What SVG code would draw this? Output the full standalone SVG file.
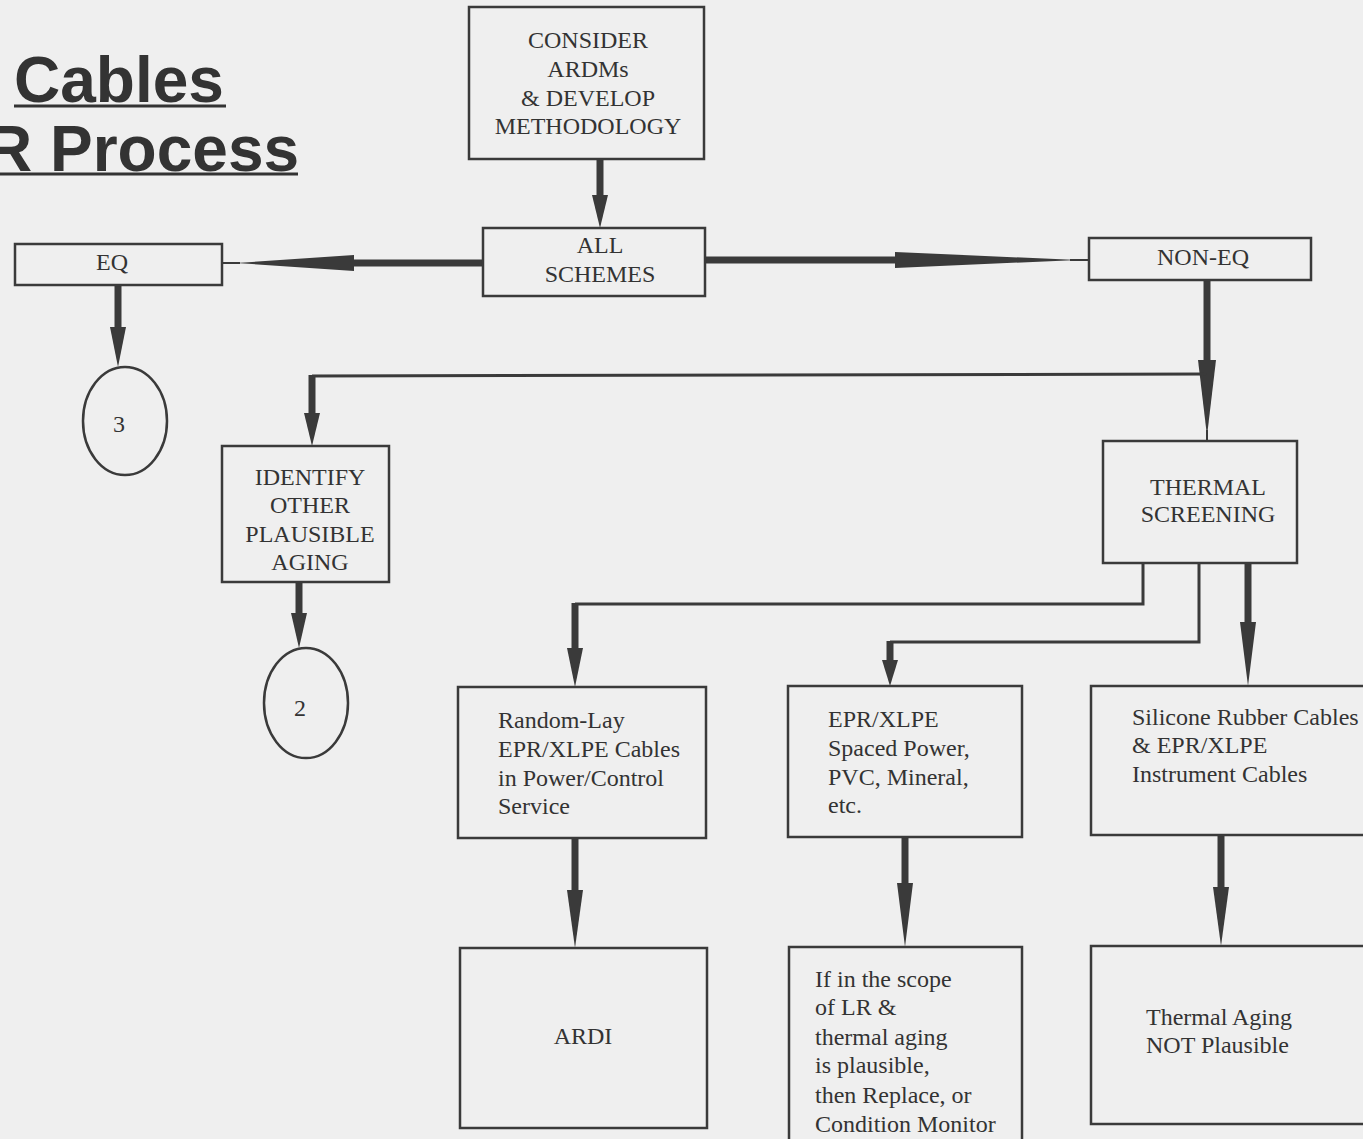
<svg xmlns="http://www.w3.org/2000/svg" width="1363" height="1139" viewBox="0 0 1363 1139">
<style>
.bg{fill:#efefef}
.box{fill:none;stroke:#3a3a3a;stroke-width:2.5}
.t{font-family:"Liberation Serif","Times New Roman",serif;font-size:24px;fill:#333}
.c{text-anchor:middle}
.title{font-family:"Liberation Sans",Arial,sans-serif;font-weight:bold;font-size:64px;fill:#333}
.ul{stroke:#333;stroke-width:3}
.thin{fill:none;stroke:#3a3a3a;stroke-width:3}
.shaft{fill:none;stroke:#3a3a3a;stroke-width:7}
.head{fill:#3a3a3a}
</style>
<rect class="bg" x="0" y="0" width="1363" height="1139"/>
<g id="title">
<text class="title" x="14" y="102">Cables</text>
<line class="ul" x1="14" y1="106" x2="226" y2="106"/>
<text class="title" x="-14" y="171">R Process</text>
<line class="ul" x1="0" y1="174" x2="298" y2="174"/>
</g>
<g id="connectors">
<!-- CONSIDER -> ALL -->
<line class="shaft" x1="600" y1="160" x2="600" y2="196"/>
<polygon class="head" points="592,195 608,195 600,228"/>
<!-- ALL -> EQ -->
<line class="shaft" x1="483" y1="263" x2="352" y2="263"/>
<polygon class="head" points="354,255 354,271 236,263"/>
<line class="thin" x1="240" y1="263" x2="222" y2="263" style="stroke-width:2"/>
<!-- ALL -> NON-EQ -->
<line class="shaft" x1="705" y1="260" x2="896" y2="260"/>
<polygon class="head" points="895,252 895,268 1078,260"/>
<line class="thin" x1="1070" y1="260" x2="1089" y2="260" style="stroke-width:2"/>
<!-- EQ -> 3 -->
<line class="shaft" x1="118" y1="286" x2="118" y2="328"/>
<polygon class="head" points="110,327 126,327 118,367"/>
<!-- NON-EQ -> THERMAL -->
<line class="shaft" x1="1207" y1="280" x2="1207" y2="361"/>
<polygon class="head" points="1198,360 1216,360 1207,436"/>
<line class="thin" x1="1207" y1="430" x2="1207" y2="441" style="stroke-width:2"/>
<!-- branch -> IDENTIFY -->
<polyline class="thin" points="1207,374 312,376"/>
<line class="shaft" x1="312" y1="375" x2="312" y2="414"/>
<polygon class="head" points="304,413 320,413 312,446"/>
<!-- IDENTIFY -> 2 -->
<line class="shaft" x1="299" y1="582" x2="299" y2="614"/>
<polygon class="head" points="291,613 307,613 299,648"/>
<!-- THERMAL -> Random-Lay -->
<polyline class="thin" points="1143,563 1143,604 575,604"/>
<line class="shaft" x1="575" y1="603" x2="575" y2="649"/>
<polygon class="head" points="567,648 583,648 575,687"/>
<!-- THERMAL -> EPR/XLPE -->
<polyline class="thin" points="1199,563 1199,642 890,642"/>
<line class="shaft" x1="890" y1="641" x2="890" y2="661"/>
<polygon class="head" points="882,660 898,660 890,686"/>
<!-- THERMAL -> Silicone -->
<line class="shaft" x1="1248" y1="563" x2="1248" y2="623"/>
<polygon class="head" points="1240,622 1256,622 1248,686"/>
<!-- Random-Lay -> ARDI -->
<line class="shaft" x1="575" y1="838" x2="575" y2="891"/>
<polygon class="head" points="567,890 583,890 575,948"/>
<!-- EPR -> If -->
<line class="shaft" x1="905" y1="837" x2="905" y2="884"/>
<polygon class="head" points="897,883 913,883 905,947"/>
<!-- Silicone -> Thermal Aging -->
<line class="shaft" x1="1221" y1="835" x2="1221" y2="888"/>
<polygon class="head" points="1213,887 1229,887 1221,946"/>
</g>
<g id="consider">
<rect class="box" x="469" y="7" width="235" height="152"/>
<text class="t c" x="588" y="48">CONSIDER</text>
<text class="t c" x="588" y="77">ARDMs</text>
<text class="t c" x="588" y="106">&amp; DEVELOP</text>
<text class="t c" x="588" y="134">METHODOLOGY</text>
</g>
<g id="all-schemes">
<rect class="box" x="483" y="228" width="222" height="68"/>
<text class="t c" x="600" y="253">ALL</text>
<text class="t c" x="600" y="282">SCHEMES</text>
</g>
<g id="eq">
<rect class="box" x="15" y="244" width="207" height="41"/>
<text class="t c" x="112" y="270">EQ</text>
</g>
<g id="non-eq">
<rect class="box" x="1089" y="238" width="222" height="42"/>
<text class="t c" x="1203" y="265">NON-EQ</text>
</g>
<g id="c3">
<ellipse class="box" cx="125" cy="421" rx="42" ry="54"/>
<text class="t c" x="119" y="432">3</text>
</g>
<g id="identify">
<rect class="box" x="222" y="446" width="167" height="136"/>
<text class="t c" x="310" y="485">IDENTIFY</text>
<text class="t c" x="310" y="513">OTHER</text>
<text class="t c" x="310" y="542">PLAUSIBLE</text>
<text class="t c" x="310" y="570">AGING</text>
</g>
<g id="c2">
<ellipse class="box" cx="306" cy="703" rx="42" ry="55"/>
<text class="t c" x="300" y="716">2</text>
</g>
<g id="thermal-screening">
<rect class="box" x="1103" y="441" width="194" height="122"/>
<text class="t c" x="1208" y="495">THERMAL</text>
<text class="t c" x="1208" y="522">SCREENING</text>
</g>
<g id="random-lay">
<rect class="box" x="458" y="687" width="248" height="151"/>
<text class="t" x="498" y="728">Random-Lay</text>
<text class="t" x="498" y="757">EPR/XLPE Cables</text>
<text class="t" x="498" y="786">in Power/Control</text>
<text class="t" x="498" y="814">Service</text>
</g>
<g id="epr-spaced">
<rect class="box" x="788" y="686" width="234" height="151"/>
<text class="t" x="828" y="727">EPR/XLPE</text>
<text class="t" x="828" y="756">Spaced Power,</text>
<text class="t" x="828" y="785">PVC, Mineral,</text>
<text class="t" x="828" y="813">etc.</text>
</g>
<g id="silicone">
<rect class="box" x="1091" y="686" width="290" height="149"/>
<text class="t" x="1132" y="725">Silicone Rubber Cables</text>
<text class="t" x="1132" y="753">&amp; EPR/XLPE</text>
<text class="t" x="1132" y="782">Instrument Cables</text>
</g>
<g id="ardi">
<rect class="box" x="460" y="948" width="247" height="180"/>
<text class="t c" x="583" y="1044">ARDI</text>
</g>
<g id="replace">
<rect class="box" x="789" y="947" width="233" height="200"/>
<text class="t" x="815" y="987">If in the scope</text>
<text class="t" x="815" y="1015">of LR &amp;</text>
<text class="t" x="815" y="1045">thermal aging</text>
<text class="t" x="815" y="1073">is plausible,</text>
<text class="t" x="815" y="1103">then Replace, or</text>
<text class="t" x="815" y="1132">Condition Monitor</text>
</g>
<g id="not-plausible">
<rect class="box" x="1091" y="946" width="290" height="178"/>
<text class="t" x="1146" y="1025">Thermal Aging</text>
<text class="t" x="1146" y="1053">NOT Plausible</text>
</g>
</svg>
